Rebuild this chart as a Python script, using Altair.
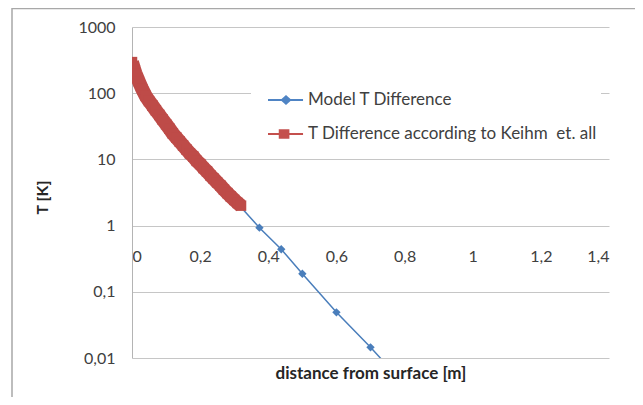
import altair as alt
import pandas as pd

# ---- data ----
series = ["Model T Difference", "T Difference according to Keihm\u00a0 et. all"]

model_x = [0.10, 0.20, 0.30, 0.374, 0.438, 0.50, 0.60, 0.70, 0.80]
model_t = [34, 8.5, 2.45, 0.93, 0.44, 0.187, 0.049, 0.0145, 0.004]

keihm_x = [0.0, 0.005, 0.01, 0.02, 0.03, 0.04, 0.05, 0.06, 0.07, 0.08, 0.09,
           0.10, 0.11, 0.12, 0.13, 0.14, 0.15, 0.16, 0.17, 0.18, 0.19, 0.20,
           0.21, 0.22, 0.23, 0.24, 0.25, 0.26, 0.27, 0.28, 0.29, 0.30, 0.31, 0.32]
keihm_t = [295, 240, 200, 151, 115, 91, 76, 65, 55, 47, 40,
           34, 29, 24.5, 21.4, 18.6, 16.2, 14.1, 12.3, 11.0, 9.5, 8.5,
           7.4, 6.6, 5.75, 5.1, 4.5, 4.0, 3.5, 3.1, 2.75, 2.45, 2.2, 2.0]

x_ticks = [0, 0.2, 0.4, 0.6, 0.8, 1.0, 1.2, 1.4]
y_ticks = [0.01, 0.1, 1, 10, 100, 1000]

blue = "#4A7EBB"
red = "#BE4B48"
blue_leg = "#4F84C4"
red_leg = "#C4504D"

FONT = "Lato"

model_df = pd.DataFrame({"x": model_x, "T": model_t})
keihm_df = pd.DataFrame({"x": keihm_x, "T": keihm_t})
legend_df = pd.DataFrame({"series": series})

x_enc = alt.X(
    "x:Q",
    scale=alt.Scale(domain=[0, 1.4], nice=False, zero=False),
    axis=alt.Axis(
        values=x_ticks,
        labelExpr="replace(format(datum.value, '~g'), '.', ',')",
        offset=-132,
        grid=False,
        ticks=False,
        domain=False,
        labelPadding=22,
        labelFontSize=16,
        labelColor="#404040",
        labelFont=FONT,
        title="distance from surface [m]",
        titleY=147,
        titleBaseline="middle",
        titleFont=FONT,
        titleFontSize=17,
        titleFontWeight="bold",
        titleColor="#262626",
    ),
)
y_enc = alt.Y(
    "T:Q",
    scale=alt.Scale(type="log", domain=[0.01, 1000], nice=False),
    axis=alt.Axis(
        values=y_ticks,
        labelExpr="datum.value >= 1 ? format(datum.value, 'd') : replace(format(datum.value, '~g'), '.', ',')",
        grid=True,
        gridColor="#c6c6c6",
        gridWidth=1,
        domain=True,
        domainColor="#b4b4b4",
        ticks=False,
        labelPadding=17,
        labelFontSize=16,
        labelColor="#404040",
        labelFont=FONT,
        title="T [K]",
        titleX=-90,
        titleY=170,
        titleBaseline="middle",
        titleFont=FONT,
        titleFontSize=16,
        titleFontWeight="bold",
        titleColor="#262626",
    ),
)

frame = alt.Chart(alt.Data(values=[{}])).mark_rect(
    fillOpacity=0, stroke="#a8a8a8", strokeWidth=1.5, clip=False
).encode(
    x=alt.value(-120), x2=alt.value(720), y=alt.value(-18.5), y2=alt.value(500)
)

blue_line = alt.Chart(model_df).mark_line(color=blue, strokeWidth=1.5, clip=True).encode(x=x_enc, y=y_enc)
blue_pts = alt.Chart(model_df).mark_point(
    shape="diamond", filled=True, size=70, color=blue, opacity=1, clip=True
).encode(x=x_enc, y=y_enc)

red_line = alt.Chart(keihm_df).mark_line(
    color=red, strokeWidth=14, strokeJoin="round", strokeCap="butt", clip=True
).encode(x=x_enc, y=y_enc)
red_pts = alt.Chart(keihm_df).mark_point(
    shape="square", filled=True, size=110, color=red, opacity=1, clip=True
).encode(x=x_enc, y=y_enc)

# legend symbols: a line with a marker drawn by strokes (hatched so it reads as filled)
path_blue = ("M-0.5,0L0.96,0M0.08,0L0.25,-0.15L0.42,0L0.25,0.15Z"
             "M0.17,-0.07H0.33M0.17,0.07H0.33")
path_red = ("M-0.5,0L0.96,0M-0.01,-0.16H0.35V0.16H-0.01Z"
            "M-0.01,-0.08H0.35M-0.01,0.08H0.35")

legend_layer = alt.Chart(legend_df).mark_point(filled=False, opacity=0).encode(
    stroke=alt.Stroke("series:N", scale=alt.Scale(domain=series, range=[blue_leg, red_leg]), title=None),
    shape=alt.Shape("series:N", scale=alt.Scale(domain=series, range=[path_blue, path_red]), title=None),
)

chart = alt.layer(frame, blue_line, blue_pts, red_line, red_pts, legend_layer).properties(
    width=477,
    height=331,
    autosize=alt.AutoSizeParams(type="none"),
    padding={"left": 124, "top": 19, "right": 26, "bottom": 39},
    background="white",
).configure_view(stroke=None).configure_legend(
    orient="none",
    legendX=119,
    legendY=44,
    fillColor="white",
    padding=4,
    symbolSize=2304,
    symbolStrokeWidth=2,
    labelFont=FONT,
    labelFontSize=17,
    labelColor="#404040",
    labelLimit=400,
    labelOffset=3,
    rowPadding=1,
)

chart.save("out.html", embed_options={"renderer": "svg", "actions": False})
